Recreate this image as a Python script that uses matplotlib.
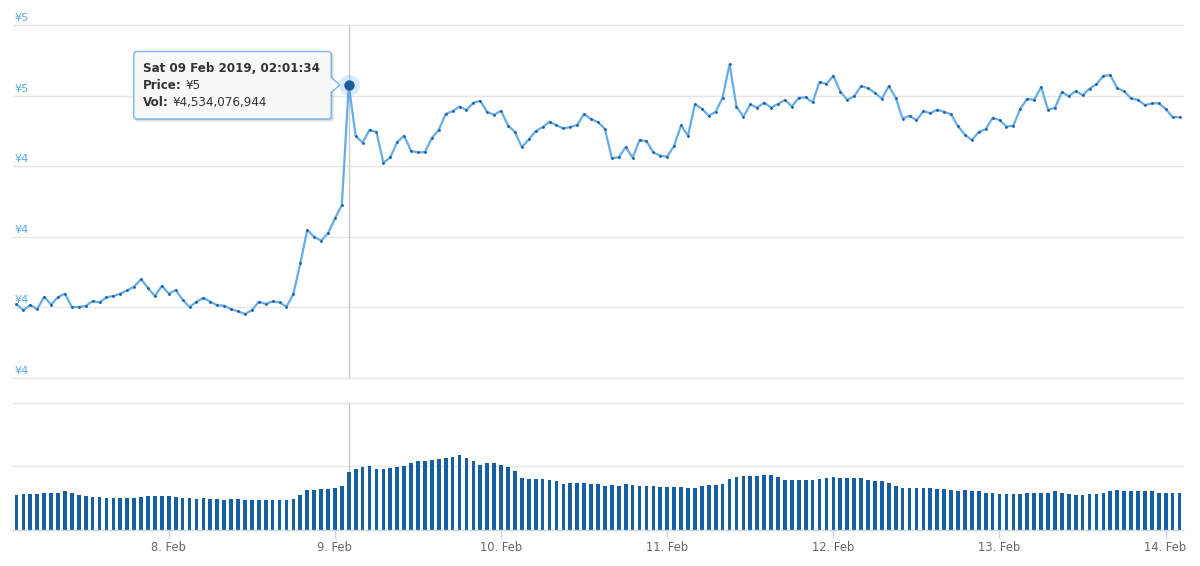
import matplotlib
matplotlib.use("Agg")
import matplotlib.pyplot as plt
import matplotlib.dates as mdates
import pandas as pd
from matplotlib.patches import FancyBboxPatch, Polygon

# ---------------- data ----------------
times = pd.date_range("2019-02-07 02:01:34", periods=169, freq="h")

price = [
    4.009, 3.992, 4.007, 3.995, 4.030, 4.008, 4.029, 4.039, 4.001, 4.001,
    4.004, 4.018, 4.014, 4.029, 4.032, 4.039, 4.048, 4.059, 4.080, 4.055,
    4.032, 4.061, 4.039, 4.049, 4.022, 4.001, 4.016, 4.027, 4.016, 4.006,
    4.005, 3.995, 3.989, 3.981, 3.992, 4.016, 4.010, 4.017, 4.014, 4.002,
    4.038, 4.125, 4.219, 4.200, 4.189, 4.210, 4.252, 4.290, 4.630, 4.485,
    4.467, 4.503, 4.497, 4.410, 4.425, 4.469, 4.486, 4.443, 4.439, 4.440,
    4.480, 4.503, 4.548, 4.556, 4.569, 4.559, 4.580, 4.585, 4.553, 4.546,
    4.557, 4.515, 4.497, 4.454, 4.476, 4.499, 4.511, 4.526, 4.516, 4.507,
    4.511, 4.517, 4.548, 4.533, 4.525, 4.505, 4.423, 4.425, 4.454, 4.424,
    4.474, 4.471, 4.439, 4.430, 4.427, 4.458, 4.516, 4.486, 4.575, 4.563,
    4.543, 4.554, 4.594, 4.689, 4.569, 4.540, 4.575, 4.566, 4.580, 4.566,
    4.576, 4.588, 4.569, 4.594, 4.595, 4.581, 4.639, 4.633, 4.656, 4.611,
    4.588, 4.598, 4.627, 4.621, 4.608, 4.591, 4.627, 4.594, 4.535, 4.543,
    4.530, 4.556, 4.550, 4.560, 4.554, 4.547, 4.513, 4.489, 4.474, 4.497,
    4.505, 4.537, 4.531, 4.512, 4.515, 4.563, 4.591, 4.588, 4.624, 4.560,
    4.565, 4.610, 4.598, 4.613, 4.601, 4.620, 4.632, 4.656, 4.658, 4.621,
    4.612, 4.592, 4.588, 4.573, 4.578, 4.578, 4.562, 4.539, 4.539,
]

# volume in billions of yen
volume_bn = [
    2.786, 2.865, 2.865, 2.865, 2.943, 2.943, 2.943, 3.047, 2.943, 2.760,
    2.682, 2.604, 2.604, 2.526, 2.526, 2.526, 2.526, 2.526, 2.604, 2.682,
    2.682, 2.682, 2.682, 2.604, 2.526, 2.526, 2.422, 2.526, 2.422, 2.422,
    2.344, 2.422, 2.422, 2.344, 2.344, 2.344, 2.344, 2.344, 2.344, 2.344,
    2.422, 2.786, 3.125, 3.125, 3.203, 3.203, 3.307, 3.463, 4.534, 4.766,
    4.948, 5.026, 4.766, 4.766, 4.870, 4.948, 5.026, 5.286, 5.391, 5.391,
    5.469, 5.547, 5.651, 5.729, 5.911, 5.651, 5.391, 5.130, 5.286, 5.286,
    5.130, 4.948, 4.609, 4.089, 3.984, 3.984, 3.984, 3.906, 3.828, 3.646,
    3.724, 3.724, 3.724, 3.646, 3.646, 3.463, 3.568, 3.463, 3.646, 3.568,
    3.463, 3.463, 3.463, 3.385, 3.385, 3.385, 3.385, 3.307, 3.307, 3.463,
    3.568, 3.568, 3.646, 3.984, 4.167, 4.245, 4.245, 4.245, 4.349, 4.349,
    4.167, 3.906, 3.906, 3.906, 3.906, 3.906, 3.984, 4.089, 4.167, 4.089,
    4.089, 4.089, 4.089, 3.906, 3.828, 3.828, 3.724, 3.463, 3.307, 3.307,
    3.307, 3.307, 3.307, 3.203, 3.203, 3.125, 3.047, 3.125, 3.047, 3.047,
    2.943, 2.943, 2.865, 2.865, 2.865, 2.865, 2.943, 2.943, 2.943, 2.943,
    3.047, 2.943, 2.865, 2.786, 2.786, 2.865, 2.865, 2.943, 3.047, 3.125,
    3.047, 3.047, 3.047, 3.047, 3.047, 2.943, 2.943, 2.943, 2.943,
]

price_grid = [3.8, 4.0, 4.2, 4.4, 4.6, 4.8]
price_labels = [f"¥{v:.0f}" for v in price_grid]
vol_grid = [0, 5, 10]
xtick_dates = pd.date_range("2019-02-08", "2019-02-14", freq="D")
xtick_labels = [f"{d.day}. Feb" for d in xtick_dates]

hover_idx = 48
tip_title = "Sat 09 Feb 2019, 02:01:34"
tip_price = "¥5"
tip_vol = "¥4,534,076,944"

# ---------------- styling ----------------
W, H = 1200, 566
LINE_C = "#65acea"
DOT_C = "#1b5c9c"
BAR_C = "#175fa2"
GRID_C = "#e6e6e6"
LABEL_C = "#5aaae6"
AXIS_C = "#ccd6eb"
TEXT_C = "#666666"

fig = plt.figure(figsize=(W / 100, H / 100), dpi=100)
fig.patch.set_facecolor("white")

ax_p = fig.add_axes([13 / W, 1 - 378 / H, 1170 / W, 353 / H])
ax_v = fig.add_axes([13 / W, 1 - 530 / H, 1170 / W, 127.3 / H])

pad = pd.Timedelta(minutes=30)
xlim = (mdates.date2num(times[0] - pad), mdates.date2num(times[-1] + pad))

# ---- price panel ----
ax_p.set_xlim(*xlim)
ax_p.set_ylim(price_grid[0], price_grid[-1])
for v in price_grid:
    ax_p.axhline(v, color=GRID_C, lw=1, zorder=0, clip_on=False)
for v, lab in zip(price_grid, price_labels):
    ax_p.annotate(lab, xy=(0, v), xycoords=("axes fraction", "data"),
                  xytext=(1, 1.5), textcoords="offset points",
                  ha="left", va="bottom", color=LABEL_C, fontsize=8.2)
ax_p.axvline(times[hover_idx], color="#c8c8c8", lw=1, zorder=1)
ax_p.plot(times, price, color=LINE_C, lw=1.6, zorder=3,
          marker="o", ms=2.0, mfc=DOT_C, mec=DOT_C, mew=0)
ax_p.plot([times[hover_idx]], [price[hover_idx]], "o", ms=15, color=LINE_C,
          alpha=0.25, mew=0, zorder=4)
ax_p.plot([times[hover_idx]], [price[hover_idx]], "o", ms=7.5, color=DOT_C,
          mew=0, zorder=5)
ax_p.set_xticks([])
ax_p.set_yticks([])
for s in ax_p.spines.values():
    s.set_visible(False)
ax_p.patch.set_alpha(0)

# ---- volume panel ----
ax_v.set_xlim(*xlim)
ax_v.set_ylim(vol_grid[0], vol_grid[-1])
for v in vol_grid[1:]:
    ax_v.axhline(v, color=GRID_C, lw=1, zorder=0, clip_on=False)
ax_v.axvline(times[hover_idx], color="#c8c8c8", lw=1, zorder=1)
ax_v.bar(times, volume_bn, width=0.53 / 24, color=BAR_C, zorder=2,
         align="center", linewidth=0)
ax_v.set_yticks([])
ax_v.set_xticks(mdates.date2num(xtick_dates))
ax_v.set_xticklabels(xtick_labels, color=TEXT_C, fontsize=8.3)
ax_v.tick_params(axis="x", length=6, width=1, color=AXIS_C, pad=2)
for k, s in ax_v.spines.items():
    s.set_visible(k == "bottom")
ax_v.spines["bottom"].set_color(AXIS_C)
ax_v.spines["bottom"].set_linewidth(1)
ax_v.patch.set_alpha(0)

# ---- tooltip ----
ov = fig.add_axes([0, 0, 1, 1], zorder=10)
ov.set_xlim(0, W)
ov.set_ylim(H, 0)
ov.axis("off")

dx, dy = ax_p.transData.transform((mdates.date2num(times[hover_idx]), price[hover_idx]))
px, py = dx, H - dy

bx1 = px - 17.5
bx0 = bx1 - 197.5
by0 = py - 33.5
by1 = py + 34
TIP_BG = "#f8f8f8"
TIP_EDGE = "#7cb5ec"

# shadow
for k, a in enumerate([0.06, 0.08, 0.10]):
    off = 3 - k
    ov.add_patch(FancyBboxPatch((bx0 + 1, by0 + 1), bx1 - bx0 + off - 1, by1 - by0 + off - 1,
                                boxstyle="round,pad=0,rounding_size=3",
                                fc="black", ec="none", alpha=a, zorder=1))
ov.add_patch(FancyBboxPatch((bx0, by0), bx1 - bx0, by1 - by0,
                            boxstyle="round,pad=0,rounding_size=3",
                            fc=TIP_BG, ec=TIP_EDGE, lw=1, zorder=2))
tri = [(bx1 - 1, py - 7.5), (px - 9, py), (bx1 - 1, py + 7.5)]
ov.add_patch(Polygon(tri, closed=True, fc=TIP_BG, ec="none", zorder=3))
ov.plot([bx1, px - 9, bx1], [py - 7.5, py, py + 7.5], color=TIP_EDGE, lw=1, zorder=4)

tx = bx0 + 9
ov.text(tx, py - 17, tip_title, fontsize=8.6, fontweight="bold", color="#333333",
        va="center", ha="left", zorder=5)
t1 = ov.text(tx, py, "Price:", fontsize=8.6, fontweight="bold", color="#333333",
             va="center", ha="left", zorder=5)
ov.annotate(tip_price, xy=(1, 0), xycoords=t1, xytext=(3, 0), textcoords="offset points",
            fontsize=8.6, color="#333333", va="bottom", ha="left", zorder=5)
t2 = ov.text(tx, py + 17, "Vol:", fontsize=8.6, fontweight="bold", color="#333333",
             va="center", ha="left", zorder=5)
ov.annotate(tip_vol, xy=(1, 0), xycoords=t2, xytext=(3, 0), textcoords="offset points",
            fontsize=8.6, color="#333333", va="bottom", ha="left", zorder=5)

fig.savefig("out.png", dpi=100, facecolor="white")
